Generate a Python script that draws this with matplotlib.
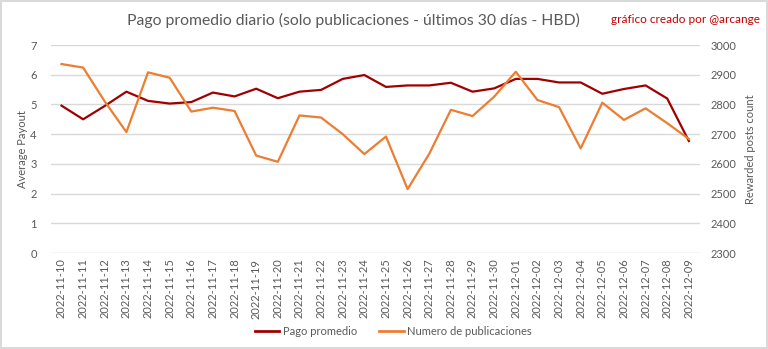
import matplotlib
matplotlib.use("Agg")
import matplotlib.pyplot as plt
from matplotlib.lines import Line2D

plt.rcParams['font.family'] = ['Lato', 'DejaVu Sans']

# datos
fechas = ['2022-11-10', '2022-11-11', '2022-11-12', '2022-11-13', '2022-11-14',
          '2022-11-15', '2022-11-16', '2022-11-17', '2022-11-18', '2022-11-19',
          '2022-11-20', '2022-11-21', '2022-11-22', '2022-11-23', '2022-11-24',
          '2022-11-25', '2022-11-26', '2022-11-27', '2022-11-28', '2022-11-29',
          '2022-11-30', '2022-12-01', '2022-12-02', '2022-12-03', '2022-12-04',
          '2022-12-05', '2022-12-06', '2022-12-07', '2022-12-08', '2022-12-09']
pago_promedio = [4.96, 4.50, 4.95, 5.43, 5.12, 5.03, 5.08, 5.40, 5.27, 5.53,
                 5.21, 5.43, 5.49, 5.86, 5.99, 5.59, 5.64, 5.64, 5.73, 5.43,
                 5.54, 5.86, 5.86, 5.74, 5.74, 5.36, 5.52, 5.64, 5.20, 3.77]
num_publicaciones = [2936, 2924, 2810, 2707, 2908, 2890, 2776, 2789, 2778, 2628,
                     2607, 2763, 2756, 2700, 2633, 2692, 2515, 2634, 2782, 2761,
                     2826, 2910, 2815, 2791, 2652, 2806, 2748, 2787, 2737, 2684]

rojo = '#A00000'
naranja = '#ED7D31'
gris = '#595959'

fig = plt.figure(figsize=(7.68, 3.49), dpi=100)
fig.patch.set_edgecolor('#d9d9d9')
fig.patch.set_linewidth(1.5)
ax = fig.add_axes([0.066, 0.275, 0.845, 0.596])
ax2 = ax.twinx()

x = range(len(fechas))
ax.plot(x, pago_promedio, color=rojo, lw=1.6, zorder=3)
ax2.plot(x, num_publicaciones, color=naranja, lw=1.6, zorder=2)

ax.set_xlim(-0.5, len(fechas) - 0.5)
ax.set_ylim(0, 7)
ax2.set_ylim(2300, 3000)
ax.set_yticks(range(0, 8))
ax2.set_yticks(range(2300, 3001, 100))
ax.set_xticks(list(x))
ax.set_xticklabels(fechas, rotation=90, fontsize=7.5, color=gris)
ax.grid(axis='y', color='#d9d9d9', lw=1)
ax.set_axisbelow(True)

for a in (ax, ax2):
    for s in a.spines.values():
        s.set_visible(False)
    a.tick_params(length=0, labelsize=8, labelcolor=gris)
ax.tick_params(axis='y', pad=10)
ax2.tick_params(axis='y', pad=8)
ax.tick_params(axis='x', pad=4)

ax.set_ylabel('Average Payout', fontsize=8, color=gris, labelpad=2)
ax2.set_ylabel('Rewarded posts count', fontsize=8, color=gris, labelpad=6)

fig.text(0.46, 0.94, 'Pago promedio diario (solo publicaciones - últimos 30 días - HBD)',
         ha='center', va='center', fontsize=11.3, color=gris)
fig.text(0.99, 0.945, 'gráfico creado por @arcange', ha='right', va='center',
         fontsize=8.5, color='#C00000')

handles = [Line2D([], [], color=rojo, lw=2), Line2D([], [], color=naranja, lw=2)]
fig.legend(handles, ['Pago promedio', 'Numero de publicaciones'], loc='center',
           bbox_to_anchor=(0.512, 0.05), ncol=2, frameon=False, fontsize=8,
           labelcolor=gris, handlelength=2.2, columnspacing=2, handletextpad=0.3)

fig.savefig('out.png', dpi=100)
